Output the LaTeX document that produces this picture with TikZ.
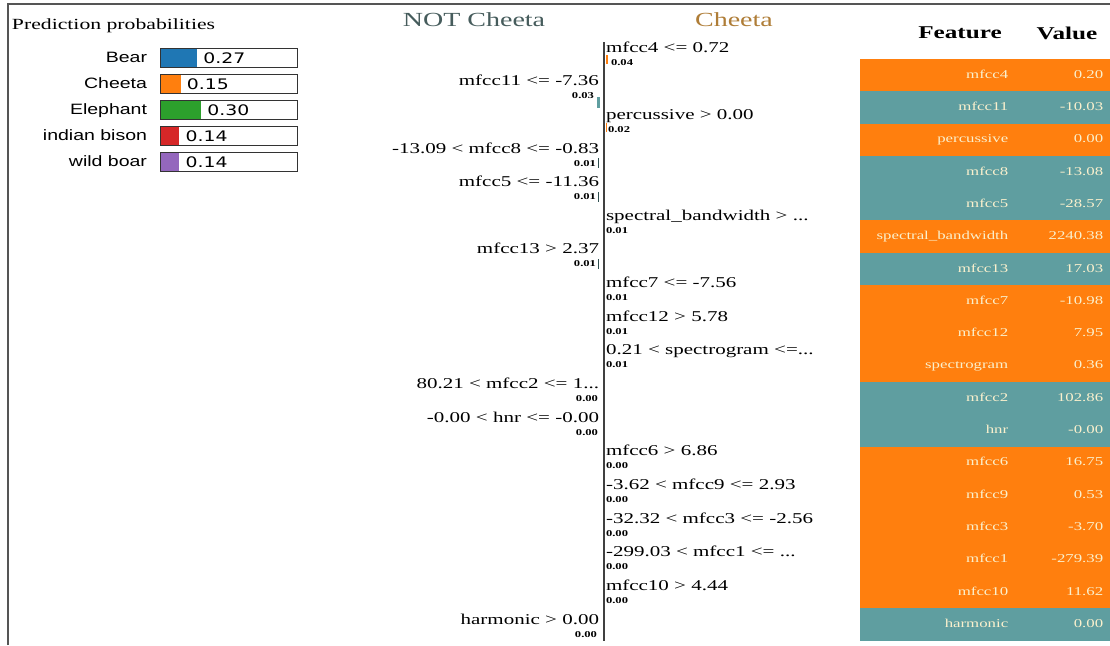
\documentclass[tikz,border=0pt]{standalone}
\usepackage{xcolor}
\usepackage{fontspec}
\setmainfont{Liberation Serif}[FakeStretch=1.4]
\newfontfamily\barfont{Liberation Sans}[FakeStretch=1.3]
\newfontfamily\probfont{DejaVu Sans}[FakeStretch=1.3]
\usepackage{tikz}
\usetikzlibrary{
    positioning
}
\definecolor{notcol}{RGB}{95,158,160}
\definecolor{cheetacol}{RGB}{255,127,14}
\definecolor{bearcol}{RGB}{31,119,180}
\definecolor{elephantcol}{RGB}{44,160,44}
\definecolor{bisoncol}{RGB}{214,39,40}
\definecolor{boarcol}{RGB}{148,103,189}
\definecolor{notname}{RGB}{70,92,92}
\definecolor{yesname}{RGB}{175,125,55}
\definecolor{celltext}{RGB}{250,240,205}
\definecolor{framegray}{RGB}{85,85,85}
\tikzset{
    txt/.style={
        inner sep=0pt,
        outer sep=0pt
    },
    classtitle/.style={
        txt,
        font=\fontsize{20}{24}\selectfont
    },
    featlabel/.style={
        txt,
        font=\fontsize{15}{18}\selectfont
    },
    featval/.style={
        txt,
        font=\fontsize{9}{11}\selectfont\bfseries
    },
    barlabel/.style={
        txt,
        text height=11pt,
        text depth=3pt,
        font=\barfont\fontsize{15}{18}\selectfont
    },
    probval/.style={
        txt,
        font=\probfont\fontsize{14.5}{17}\selectfont
    },
    probbox/.style={
        rectangle,
        draw=black!80,
        line width=1.3pt,
        minimum width=137pt,
        minimum height=19pt,
        inner sep=0pt,
        anchor=west
    },
    probfill/.style={
        rectangle,
        minimum height=19pt,
        inner sep=0pt,
        anchor=west
    },
    tabrow/.style={
        rectangle,
        minimum width=250pt,
        minimum height=32.6pt,
        inner sep=0pt
    },
    cell/.style={
        txt,
        text=celltext,
        text height=8pt,
        text depth=2pt,
        font=\fontsize{12}{14}\selectfont,
        anchor=east
    },
    header/.style={
        txt,
        font=\fontsize{18}{22}\selectfont\bfseries
    },
    zeroaxis/.style={
        draw=black!75,
        line width=2.5pt
    },
    figframe/.style={
        draw=framegray,
        line width=2pt
    }
}

\begin{document}
\begin{tikzpicture}[x=1pt, y=-1pt]

\useasboundingbox (0,0) rectangle (1110,645);
\fill[white] (0,0) rectangle (1110,645);
\draw[figframe] (7.5,645) -- (7.5,4) -- (1110,4);

% prediction probabilities
\node[featlabel, anchor=west, font=\fontsize{15.5}{18}\selectfont] (probtitle) at (12,26) {Prediction probabilities};

\node[probfill, fill=bearcol, minimum width=37pt] (bearfill) at (160,58) {};
\node[probbox] (bearbox) at (160,58) {};
\node[barlabel, left=13pt of bearbox] (bearlab) {Bear};
\node[probval, right=6pt of bearfill] (bearval) {0.27};

\node[probfill, fill=cheetacol, minimum width=20.5pt] (cheetafill) at (160,84) {};
\node[probbox] (cheetabox) at (160,84) {};
\node[barlabel, left=13pt of cheetabox] (cheetalab) {Cheeta};
\node[probval, right=6pt of cheetafill] (cheetaval) {0.15};

\node[probfill, fill=elephantcol, minimum width=41pt] (elephantfill) at (160,110) {};
\node[probbox] (elephantbox) at (160,110) {};
\node[barlabel, left=13pt of elephantbox] (elephantlab) {Elephant};
\node[probval, right=6pt of elephantfill] (elephantval) {0.30};

\node[probfill, fill=bisoncol, minimum width=19.2pt] (bisonfill) at (160,136) {};
\node[probbox] (bisonbox) at (160,136) {};
\node[barlabel, left=13pt of bisonbox] (bisonlab) {indian bison};
\node[probval, right=6pt of bisonfill] (bisonval) {0.14};

\node[probfill, fill=boarcol, minimum width=19.2pt] (boarfill) at (160,162) {};
\node[probbox] (boarbox) at (160,162) {};
\node[barlabel, left=13pt of boarbox] (boarlab) {wild boar};
\node[probval, right=6pt of boarfill] (boarval) {0.14};

% explanation
\node[classtitle, text=notname] (nottitle) at (474,20) {NOT Cheeta};
\node[classtitle, text=yesname] (yestitle) at (734,20) {Cheeta};

\coordinate (axtop) at (603.8,42);
\coordinate (axbot) at (603.8,641);
\draw[zeroaxis] (axtop) -- (axbot);

\fill[cheetacol] (605.5,55) rectangle (608,64);
\fill[notcol] (597,97) rectangle (599.5,108);
\fill[cheetacol] (605.5,123) rectangle (607,132);
\fill[notcol!50!black] (597.5,158) rectangle (598.5,168);
\fill[notcol!50!black] (597.5,192) rectangle (598.5,202);
\fill[notcol!50!black] (597.5,259) rectangle (598.5,269);

\node[featlabel, anchor=base west] (mfcc4) at (606,52) {mfcc4 <= 0.72};
\node[featval, below=13pt of mfcc4.base west, anchor=base west, xshift=5pt] (mfcc4v) {0.04};
\node[featlabel, anchor=base east] (mfcc11) at (599,85.7) {mfcc11 <= -7.36};
\node[featval, below=13pt of mfcc11.base east, anchor=base east, xshift=-5pt] (mfcc11v) {0.03};
\node[featlabel, anchor=base west] (perc) at (606,119.3) {percussive > 0.00};
\node[featval, below=13pt of perc.base west, anchor=base west, xshift=2pt] (percv) {0.02};
\node[featlabel, anchor=base east] (mfcc8) at (599,153) {-13.09 < mfcc8 <= -0.83};
\node[featval, below=13pt of mfcc8.base east, anchor=base east, xshift=-3pt] (mfcc8v) {0.01};
\node[featlabel, anchor=base east] (mfcc5) at (599,186.6) {mfcc5 <= -11.36};
\node[featval, below=13pt of mfcc5.base east, anchor=base east, xshift=-3pt] (mfcc5v) {0.01};
\node[featlabel, anchor=base west] (specbw) at (606,220.3) {spectral\_bandwidth > ...};
\node[featval, below=13pt of specbw.base west, anchor=base west] (specbwv) {0.01};
\node[featlabel, anchor=base east] (mfcc13) at (599,253.9) {mfcc13 > 2.37};
\node[featval, below=13pt of mfcc13.base east, anchor=base east, xshift=-3pt] (mfcc13v) {0.01};
\node[featlabel, anchor=base west] (mfcc7) at (606,287.6) {mfcc7 <= -7.56};
\node[featval, below=13pt of mfcc7.base west, anchor=base west] (mfcc7v) {0.01};
\node[featlabel, anchor=base west] (mfcc12) at (606,321.2) {mfcc12 > 5.78};
\node[featval, below=13pt of mfcc12.base west, anchor=base west] (mfcc12v) {0.01};
\node[featlabel, anchor=base west] (spec) at (606,354.9) {0.21 < spectrogram <=...};
\node[featval, below=13pt of spec.base west, anchor=base west] (specv) {0.01};
\node[featlabel, anchor=base east] (mfcc2) at (599,388.5) {80.21 < mfcc2 <= 1...};
\node[featval, below=13pt of mfcc2.base east, anchor=base east, xshift=-1pt] (mfcc2v) {0.00};
\node[featlabel, anchor=base east] (hnr) at (599,422.2) {-0.00 < hnr <= -0.00};
\node[featval, below=13pt of hnr.base east, anchor=base east, xshift=-1pt] (hnrv) {0.00};
\node[featlabel, anchor=base west] (mfcc6) at (606,455.8) {mfcc6 > 6.86};
\node[featval, below=13pt of mfcc6.base west, anchor=base west] (mfcc6v) {0.00};
\node[featlabel, anchor=base west] (mfcc9) at (606,489.5) {-3.62 < mfcc9 <= 2.93};
\node[featval, below=13pt of mfcc9.base west, anchor=base west] (mfcc9v) {0.00};
\node[featlabel, anchor=base west] (mfcc3) at (606,523.1) {-32.32 < mfcc3 <= -2.56};
\node[featval, below=13pt of mfcc3.base west, anchor=base west] (mfcc3v) {0.00};
\node[featlabel, anchor=base west] (mfcc1) at (606,556.8) {-299.03 < mfcc1 <= ...};
\node[featval, below=13pt of mfcc1.base west, anchor=base west] (mfcc1v) {0.00};
\node[featlabel, anchor=base west] (mfcc10) at (606,590.4) {mfcc10 > 4.44};
\node[featval, below=13pt of mfcc10.base west, anchor=base west] (mfcc10v) {0.00};
\node[featlabel, anchor=base east] (harm) at (599,624.1) {harmonic > 0.00};
\node[featval, below=13pt of harm.base east, anchor=base east, xshift=-2pt] (harmv) {0.00};

% feature table
\node[header] (feathead) at (960,33) {Feature};
\node[header] (valhead) at (1067,33) {Value};

\node[tabrow, fill=cheetacol] (t0) at (985,75.2) {};
\node[cell, left=102pt of t0.east] (t0f) {mfcc4};
\node[cell, left=7pt of t0.east] (t0v) {0.20};
\node[tabrow, fill=notcol] (t1) at (985,107.5) {};
\node[cell, left=102pt of t1.east] (t1f) {mfcc11};
\node[cell, left=7pt of t1.east] (t1v) {-10.03};
\node[tabrow, fill=cheetacol] (t2) at (985,139.8) {};
\node[cell, left=102pt of t2.east] (t2f) {percussive};
\node[cell, left=7pt of t2.east] (t2v) {0.00};
\node[tabrow, fill=notcol] (t3) at (985,172.1) {};
\node[cell, left=102pt of t3.east] (t3f) {mfcc8};
\node[cell, left=7pt of t3.east] (t3v) {-13.08};
\node[tabrow, fill=notcol] (t4) at (985,204.4) {};
\node[cell, left=102pt of t4.east] (t4f) {mfcc5};
\node[cell, left=7pt of t4.east] (t4v) {-28.57};
\node[tabrow, fill=cheetacol] (t5) at (985,236.7) {};
\node[cell, left=102pt of t5.east] (t5f) {spectral\_bandwidth};
\node[cell, left=7pt of t5.east] (t5v) {2240.38};
\node[tabrow, fill=notcol] (t6) at (985,269) {};
\node[cell, left=102pt of t6.east] (t6f) {mfcc13};
\node[cell, left=7pt of t6.east] (t6v) {17.03};
\node[tabrow, fill=cheetacol] (t7) at (985,301.3) {};
\node[cell, left=102pt of t7.east] (t7f) {mfcc7};
\node[cell, left=7pt of t7.east] (t7v) {-10.98};
\node[tabrow, fill=cheetacol] (t8) at (985,333.6) {};
\node[cell, left=102pt of t8.east] (t8f) {mfcc12};
\node[cell, left=7pt of t8.east] (t8v) {7.95};
\node[tabrow, fill=cheetacol] (t9) at (985,365.9) {};
\node[cell, left=102pt of t9.east] (t9f) {spectrogram};
\node[cell, left=7pt of t9.east] (t9v) {0.36};
\node[tabrow, fill=notcol] (t10) at (985,398.2) {};
\node[cell, left=102pt of t10.east] (t10f) {mfcc2};
\node[cell, left=7pt of t10.east] (t10v) {102.86};
\node[tabrow, fill=notcol] (t11) at (985,430.5) {};
\node[cell, left=102pt of t11.east] (t11f) {hnr};
\node[cell, left=7pt of t11.east] (t11v) {-0.00};
\node[tabrow, fill=cheetacol] (t12) at (985,462.8) {};
\node[cell, left=102pt of t12.east] (t12f) {mfcc6};
\node[cell, left=7pt of t12.east] (t12v) {16.75};
\node[tabrow, fill=cheetacol] (t13) at (985,495.1) {};
\node[cell, left=102pt of t13.east] (t13f) {mfcc9};
\node[cell, left=7pt of t13.east] (t13v) {0.53};
\node[tabrow, fill=cheetacol] (t14) at (985,527.4) {};
\node[cell, left=102pt of t14.east] (t14f) {mfcc3};
\node[cell, left=7pt of t14.east] (t14v) {-3.70};
\node[tabrow, fill=cheetacol] (t15) at (985,559.7) {};
\node[cell, left=102pt of t15.east] (t15f) {mfcc1};
\node[cell, left=7pt of t15.east] (t15v) {-279.39};
\node[tabrow, fill=cheetacol] (t16) at (985,592) {};
\node[cell, left=102pt of t16.east] (t16f) {mfcc10};
\node[cell, left=7pt of t16.east] (t16v) {11.62};
\node[tabrow, fill=notcol] (t17) at (985,624.3) {};
\node[cell, left=102pt of t17.east] (t17f) {harmonic};
\node[cell, left=7pt of t17.east] (t17v) {0.00};

\end{tikzpicture}
\end{document}
